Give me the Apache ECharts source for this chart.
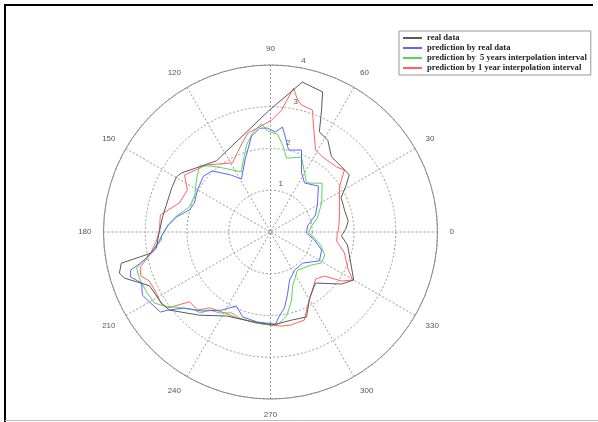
<!DOCTYPE html>
<html>
<head>
<meta charset="utf-8">
<script src="https://cdn.jsdelivr.net/npm/echarts@6/dist/echarts.min.js"></script>
<style>
html,body{margin:0;padding:0;background:#fff;}
#chart{width:598px;height:422px;}
</style>
</head>
<body>
<div id="chart"></div>
<script>
// ---- data (angle in degrees, radius) ----
const seriesNames = ['real data', 'prediction by real data', 'prediction by  5 years interpolation interval', 'prediction by 1 year interpolation interval'];
const angleTicks = [0, 30, 60, 90, 120, 150, 180, 210, 240, 270, 300, 330];
const radiusTicks = [1, 2, 3, 4];

const realAngle = [2, 8, 16, 26, 31, 36, 42.5, 51, 58, 64, 67.3, 69.6, 78, 90.5, 127.3, 131.5, 146.5, 149.7, 156, 172, 181.5, 188, 190, 191.8, 195.2, 197.5, 204, 213, 217.7, 229.5, 242.4, 256.7, 271.2, 283.4, 293, 300.6, 311.4, 323.8, 330, 339.4, 350.4, 357];
const realR     = [1.80, 1.88, 1.85, 1.88, 2.10, 2.33, 2.31, 2.32, 2.59, 2.67, 3.17, 3.58, 3.67, 2.92, 2.14, 2.20, 2.56, 2.61, 2.59, 2.61, 2.68, 2.76, 2.89, 3.65, 3.75, 3.67, 3.17, 3.12, 3.06, 2.62, 2.27, 2.19, 2.23, 2.17, 2.21, 1.84, 1.63, 2.11, 2.30, 2.05, 1.87, 1.70];

const blueAngle = [9.2, 20.7, 30.8, 43.8, 55.2, 62.3, 69.3, 77.6, 80.9, 83.5, 87.1, 91.7, 96, 101.2, 108.7, 118.7, 125, 133.6, 140.1, 150, 159.1, 164.8, 170.9, 176.7, 182, 184.6, 190.8, 193.7, 195.2, 197.8, 201.6, 206.2, 210, 216, 217.4, 221.5, 228.9, 237.9, 245.3, 251.8, 261.8, 273.1, 276.1, 280.4, 285.1, 291.6, 302.3, 315.9, 329.4, 340.6, 349.7, 358.4];
const blueR     = [0.90, 1.15, 1.31, 1.59, 1.43, 1.60, 2.10, 2.01, 2.28, 2.53, 2.40, 2.49, 2.50, 2.34, 1.87, 1.45, 1.67, 2.02, 2.09, 2.02, 1.95, 2.01, 2.28, 2.47, 2.61, 2.67, 2.95, 3.23, 3.47, 3.52, 3.32, 3.42, 3.35, 3.26, 3.08, 2.75, 2.51, 2.21, 1.95, 2.14, 2.18, 2.21, 2.02, 1.85, 1.56, 1.24, 1.08, 1.07, 1.36, 1.30, 1.07, 0.86];

const greenAngle = [8.3, 16.6, 29.6, 43.3, 53.7, 67.5, 77.8, 81.3, 85.9, 91.7, 94.8, 100.3, 105.4, 112.7, 115.8, 126.9, 131.8, 137.1, 144.9, 154, 162.8, 170.3, 175.5, 182, 184.2, 189.1, 192.5, 195, 199.3, 205.8, 211.5, 214.9, 220.5, 225.7, 229.2, 232, 237.8, 244.3, 250.2, 261.3, 271, 275, 280.8, 286.9, 292.2, 305.4, 321.2, 328.7, 336.9, 345.4, 354.6, 358.5];
const greenR     = [0.99, 1.17, 1.41, 1.70, 1.46, 1.94, 1.81, 2.06, 2.35, 2.42, 2.60, 2.41, 2.16, 1.74, 1.60, 1.92, 2.12, 2.32, 2.17, 2.02, 2.03, 2.28, 2.45, 2.61, 2.62, 2.86, 3.09, 3.32, 3.33, 3.30, 3.26, 3.10, 2.80, 2.61, 2.56, 2.37, 2.29, 2.15, 2.19, 2.21, 2.23, 2.21, 2.05, 1.73, 1.40, 1.12, 1.26, 1.43, 1.41, 1.24, 1.01, 0.91];

const redAngle = [1.7, 12.3, 24.9, 33.1, 40, 44.6, 55.3, 61.2, 67.7, 71, 76.3, 78.4, 80.9, 84.8, 89.5, 96, 103, 110.3, 118.8, 133.7, 146.5, 153.2, 162.3, 171.2, 179, 184.5, 190.8, 195, 198.7, 202, 208.2, 213.4, 216.4, 220.8, 226.9, 231.3, 240.4, 249, 261.3, 271, 276.7, 282.7, 291, 296.6, 303.9, 313.8, 320.8, 325.4, 329.7, 335, 344.2, 352.2, 359];
const redR     = [1.63, 1.69, 1.82, 1.97, 2.31, 2.22, 2.19, 2.24, 2.72, 3.09, 3.13, 3.23, 3.49, 2.93, 2.68, 2.53, 2.43, 2.14, 1.89, 2.22, 2.47, 2.23, 2.29, 2.67, 2.66, 2.74, 2.95, 3.22, 3.28, 3.13, 3.10, 3.13, 3.07, 2.56, 2.56, 2.33, 2.23, 2.21, 2.21, 2.23, 2.27, 2.28, 2.26, 1.98, 1.76, 1.56, 1.67, 2.07, 2.28, 2.04, 1.84, 1.60, 1.60];

const colors = ['#5a5a5a', '#6262ff', '#55d655', '#ff6262'];

function closedPolar(angles, radii) {
  const d = angles.map((a, i) => [radii[i], a]);
  d.push([radii[0], angles[0] + 360]);
  return d;
}

const allData = [
  closedPolar(realAngle, realR),
  closedPolar(blueAngle, blueR),
  closedPolar(greenAngle, greenR),
  closedPolar(redAngle, redR)
];

const chart = echarts.init(document.getElementById('chart'), null, {renderer: 'canvas'});
const center = [270.5, 232];
const rad = 167;

const option = {
  animation: false,
  backgroundColor: '#ffffff',
  polar: [
    {center: center, radius: rad},
    {center: center, radius: rad}
  ],
  angleAxis: [
    {
      polarIndex: 0, type: 'value', min: 0, max: 360, interval: 30,
      startAngle: 0, clockwise: false,
      axisLine: {show: true, lineStyle: {color: '#8a8a8a', width: 1}},
      axisTick: {show: false},
      axisLabel: {show: true, margin: 12, fontSize: 8, color: '#555', fontFamily: 'Liberation Sans',
        formatter: v => angleTicks.includes(v) ? String(v) : ''},
      splitLine: {show: true, lineStyle: {color: '#9a9a9a', width: 1, type: [2, 2]}}
    },
    {
      polarIndex: 1, type: 'value', min: 0, max: 360, startAngle: 79.5, clockwise: false, show: false
    }
  ],
  radiusAxis: [
    {
      polarIndex: 0, type: 'value', min: 0, max: 4, interval: 1,
      axisLine: {show: false}, axisTick: {show: false}, axisLabel: {show: false},
      splitLine: {show: true, lineStyle: {color: '#9a9a9a', width: 1, type: [2, 2]}}
    },
    {
      polarIndex: 1, type: 'value', min: 0, max: 4, interval: 1,
      axisLine: {show: false}, axisTick: {show: false},
      axisLabel: {show: true, showMinLabel: false, margin: 0, fontSize: 8, color: '#555', fontFamily: 'Liberation Sans',
        align: 'center', verticalAlign: 'bottom', lineHeight: 14, padding: [0, 0, 0, 5],
        formatter: v => radiusTicks.includes(v) ? String(v) : ''},
      splitLine: {show: false}
    }
  ],
  legend: {
    orient: 'vertical', left: 399, top: 31,
    data: seriesNames,
    icon: 'rect', itemWidth: 19, itemHeight: 2, itemGap: 0,
    padding: [2, 4, 2, 4],
    borderColor: '#999', borderWidth: 1, backgroundColor: '#fff',
    textStyle: {fontFamily: 'Liberation Serif', fontWeight: 'bold', fontSize: 8.6, color: '#222', lineHeight: 10}
  },
  graphic: [
    {type: 'line', shape: {x1: 4, y1: 5, x2: 593, y2: 5}, style: {stroke: '#000', lineWidth: 2}, z: 100},
    {type: 'line', shape: {x1: 5, y1: 4, x2: 5, y2: 422}, style: {stroke: '#000', lineWidth: 2}, z: 100},
    {type: 'line', shape: {x1: 5, y1: 420.5, x2: 598, y2: 420.5}, style: {stroke: '#bbb', lineWidth: 1}, z: 100}
  ],
  series: seriesNames.map((name, i) => ({
    name: name, type: 'line', coordinateSystem: 'polar', polarIndex: 0,
    data: allData[i], showSymbol: false, symbol: 'none', smooth: false,
    lineStyle: {color: colors[i], width: 1}, itemStyle: {color: colors[i]},
    z: 10 - i
  }))
};
chart.setOption(option);
</script>
</body>
</html>
